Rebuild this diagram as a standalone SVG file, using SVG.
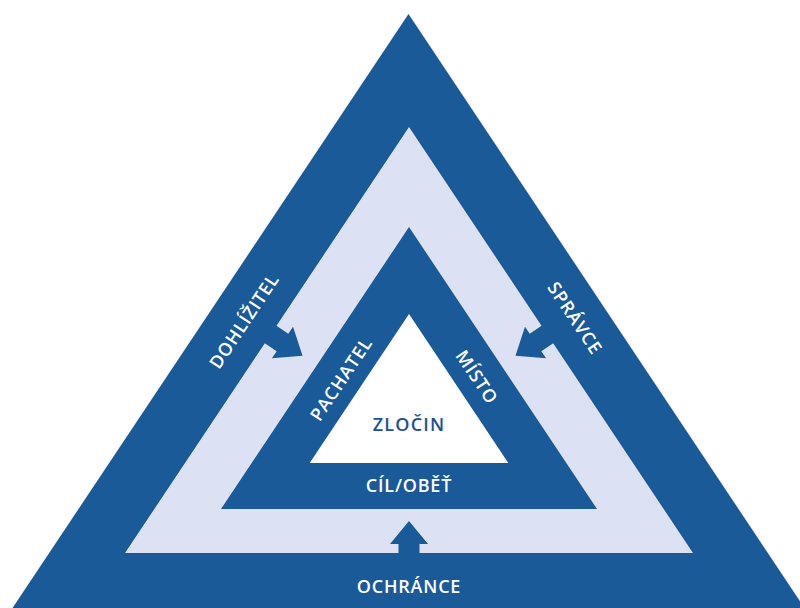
<svg xmlns="http://www.w3.org/2000/svg" width="800" height="608" viewBox="0 0 800 608">
<style>
.dark{fill:#1a5a98}
.light{fill:#dce2f4}
.white{fill:#ffffff}
.lbl{font-family:"Open Sans","Liberation Sans",sans-serif;font-weight:600;font-size:18px;fill:#ffffff;text-anchor:middle;letter-spacing:0.8px}
.core{fill:#22508e;letter-spacing:1.2px}
</style>
<rect width="800" height="608" fill="#ffffff"/>
<g id="outer">
<polygon class="dark" points="408.5,14 812.5,620 4.5,620"/>
</g>
<g id="band">
<polygon class="light" points="409,127 693,553 125,553"/>
</g>
<g id="inner">
<polygon class="dark" points="409,227 597,509 221,509"/>
</g>
<g id="crime">
<polygon class="white" points="409,314 508.3,463 309.7,463"/>
<text class="lbl core" x="409" y="431">ZLOČIN</text>
</g>
<g id="connectors">
<polygon class="dark" transform="translate(270.5,334.5) rotate(123.7)" points="-10.5,3 -10.5,-14.4 -19,-14.4 0,-38.5 19,-14.4 10.5,-14.4 10.5,3"/>
<polygon class="dark" transform="translate(547.5,334.5) rotate(-123.7)" points="-10.5,3 -10.5,-14.4 -19,-14.4 0,-38.5 19,-14.4 10.5,-14.4 10.5,3"/>
<polygon class="dark" transform="translate(409,552)" points="-10.5,3 -10.5,-8 -19,-8 0,-31 19,-8 10.5,-8 10.5,3"/>
</g>
<g id="dohlizitel">
<text class="lbl" transform="translate(244,321) rotate(-56.3)" x="0" y="6.5">DOHLÍŽITEL</text>
</g>
<g id="spravce">
<text class="lbl" transform="translate(575,318) rotate(56.3)" x="0" y="6.5">SPRÁVCE</text>
</g>
<g id="ochrance">
<text class="lbl" x="409" y="593">OCHRÁNCE</text>
</g>
<g id="pachatel">
<text class="lbl" transform="translate(341,379) rotate(-56.3)" x="0" y="6.5">PACHATEL</text>
</g>
<g id="misto">
<text class="lbl" transform="translate(477,377) rotate(56.3)" x="0" y="6.5">MÍSTO</text>
</g>
<g id="cil">
<text class="lbl" x="409" y="492">CÍL/OBĚŤ</text>
</g>
</svg>
